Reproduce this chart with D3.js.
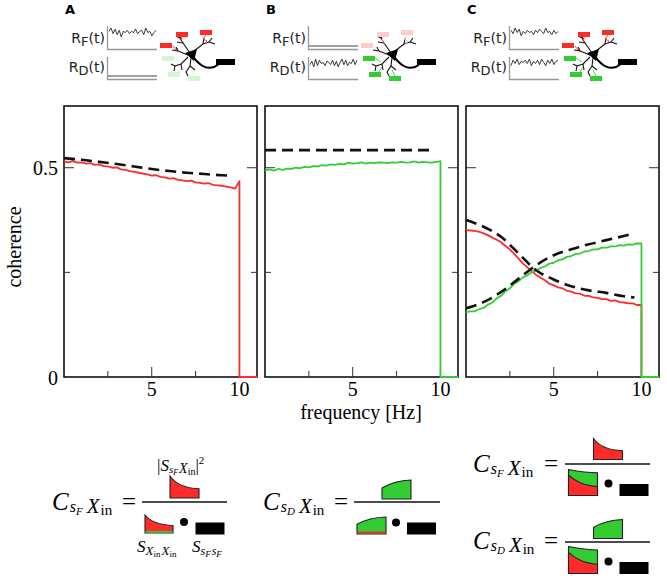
<!DOCTYPE html>
<html>
<head>
<meta charset="utf-8">
<script src="https://cdn.jsdelivr.net/npm/d3@7"></script>
<style>
body { margin: 0; background: #fff; }
svg { display: block; }
</style>
</head>
<body>
<svg width="667" height="581"></svg>
<script>
// Frequency grid of the simulated coherence curves (Hz); last two points are the drop to zero
const freqSim = [0, 0.25, 0.5, 0.75, 1, 1.25, 1.5, 1.75, 2, 2.25, 2.5, 2.75, 3, 3.25, 3.5, 3.75,
    4, 4.25, 4.5, 4.75, 5, 5.25, 5.5, 5.75, 6, 6.25, 6.5, 6.75, 7, 7.25, 7.5, 7.75,
    8, 8.25, 8.5, 8.75, 9, 9.25, 9.5, 9.75, 10, 10, 11];

// Simulated coherence (solid lines)
const simA_red = [.515, .513, .516, .512, .513, .510, .511, .507, .508, .504, .503, .500, .501, .496, .495, .492,
    .490, .488, .486, .484, .481, .482, .478, .477, .474, .475, .471, .470, .468, .469, .465, .464,
    .462, .463, .459, .458, .457, .455, .453, .450, .468, 0, 0];
const simB_green = [.494, .496, .493, .497, .495, .498, .497, .500, .499, .502, .501, .504, .503, .506, .505, .508,
    .507, .509, .508, .512, .510, .511, .513, .510, .512, .511, .513, .512, .511, .513, .512, .514,
    .512, .513, .515, .512, .514, .513, .512, .514, .516, 0, 0];
const simC_red = [.351, .350, .349, .347, .343, .339, .333, .328, .322, .313, .305, .294, .283, .271, .262, .253,
    .244, .237, .231, .223, .219, .214, .212, .206, .204, .200, .199, .194, .194, .190, .189, .186,
    .186, .182, .183, .179, .178, .176, .176, .172, .172, 0, 0];
const simC_green = [.155, .157, .157, .162, .165, .173, .178, .188, .194, .205, .212, .223, .229, .238, .243, .251,
    .254, .261, .264, .271, .273, .279, .281, .287, .289, .294, .295, .300, .301, .305, .305, .309,
    .309, .312, .312, .315, .314, .317, .316, .319, .319, 0, 0];

// Theory (dashed lines)
const freqTheory = [0, 1, 2, 3, 4, 5, 6, 7, 8, 9, 9.6];
const thA = [.523, .519, .514, .509, .503, .497, .492, .488, .485, .482, .481];
const thB = [.542, .542, .542, .542, .542, .542, .542, .542, .542, .542, .542];
const thC_red = [.375, .359, .335, .295, .255, .233, .217, .207, .201, .193, .190];
const thC_green = [.164, .179, .203, .235, .267, .291, .305, .317, .327, .337, .343];

// Ticks
const xTicks = [2.5, 5, 7.5, 10];
const xTickLabels = ["", "5", "", "10"];
const yTicks = [0, 0.25, 0.5];
const yTickLabels = ["0", "", "0.5"];
const panelLetters = ["A", "B", "C"];

// Little input traces in the cartoons (arbitrary units)
const noiseF_A = [.6, .9, .4, .8, .3, .7, .1, .6, .5, .7, .4, .6, .5, .8, .4, .6, .7, .3, .9, .5, .6, .2, .5, .7];
const noiseD_B = [.4, .7, .2, .9, .3, .8, .5, .6, .3, .7, .6, .4, .8, .3, .7, .2, .6, .9, .4, .8, .3, .6, .5, .9, .4, .8];
const noiseF_C = [.7, .4, .9, .5, .8, .2, .6, .4, .7, .5, .6, .3, .7, .5, .8, .6, .4, .9, .5, .6, .3, .7, .4, .6];
const noiseD_C = [.3, .8, .5, .9, .4, .7, .6, .8, .5, .9, .3, .7, .5, .8, .4, .9, .6, .3, .8, .5, .9, .4, .7, .8];

const RED = "#ff2b2b", GREEN = "#33cc33";
const RED_FADE = "#ffcccc", GREEN_FADE = "#d4f5d4";
const SERIF = "Liberation Serif, serif";
const SANS = "DejaVu Sans, sans-serif";

const svg = d3.select("svg");

// ---------------- plots ----------------
const plotTop = 106, plotBottom = 377, plotW = 193;
const panelX = [64, 265, 466];
const y = d3.scaleLinear().domain([0, 0.6475]).range([plotBottom, plotTop]);

const panels = [
    { sims: [{ v: simA_red, c: RED }], th: [thA] },
    { sims: [{ v: simB_green, c: GREEN }], th: [thB] },
    { sims: [{ v: simC_red, c: RED }, { v: simC_green, c: GREEN }], th: [thC_red, thC_green] }
];

panels.forEach((p, i) => {
    const x = d3.scaleLinear().domain([0, 11]).range([panelX[i], panelX[i] + plotW]);
    const g = svg.append("g");

    g.append("rect")
        .attr("x", x(0)).attr("y", plotTop)
        .attr("width", plotW).attr("height", plotBottom - plotTop)
        .attr("fill", "none").attr("stroke", "#111").attr("stroke-width", 1.6);

    // inward ticks
    yTicks.forEach((t, k) => {
        if (t === 0) return;
        const len = yTickLabels[k] ? 10 : 6;
        g.append("line").attr("x1", x(0)).attr("x2", x(0) + len)
            .attr("y1", y(t)).attr("y2", y(t)).attr("stroke", "#333");
        g.append("line").attr("x1", x(11)).attr("x2", x(11) - len)
            .attr("y1", y(t)).attr("y2", y(t)).attr("stroke", "#333");
    });
    xTicks.forEach((t, k) => {
        const len = xTickLabels[k] ? 10 : 6;
        g.append("line").attr("x1", x(t)).attr("x2", x(t))
            .attr("y1", plotBottom).attr("y2", plotBottom - len).attr("stroke", "#333");
        if (xTickLabels[k]) {
            g.append("text").attr("x", x(t)).attr("y", 396)
                .attr("text-anchor", "middle").attr("font-family", SERIF).attr("font-size", 20)
                .text(xTickLabels[k]);
        }
    });

    const simLine = d3.line().x((d, j) => x(freqSim[j])).y(d => y(d));
    p.sims.forEach(s => {
        g.append("path").datum(s.v).attr("d", simLine)
            .attr("fill", "none").attr("stroke", s.c).attr("stroke-width", 1.8)
            .attr("stroke-linejoin", "round");
    });

    const thLine = d3.line().x((d, j) => x(freqTheory[j])).y(d => y(d)).curve(d3.curveMonotoneX);
    p.th.forEach(t => {
        g.append("path").datum(t).attr("d", thLine)
            .attr("fill", "none").attr("stroke", "#111").attr("stroke-width", 2.6)
            .attr("stroke-dasharray", "11,6");
    });

    if (i === 0) {
        yTicks.forEach((t, k) => {
            if (!yTickLabels[k]) return;
            g.append("text").attr("x", 58).attr("y", y(t) + 7.5)
                .attr("text-anchor", "end").attr("font-family", SERIF).attr("font-size", 20)
                .text(yTickLabels[k]);
        });
    }
});

svg.append("text").attr("transform", "translate(21,247) rotate(-90)")
    .attr("text-anchor", "middle").attr("font-family", SERIF).attr("font-size", 20).text("coherence");
svg.append("text").attr("x", 361).attr("y", 419)
    .attr("text-anchor", "middle").attr("font-family", SERIF).attr("font-size", 20).text("frequency [Hz]");

// ---------------- cartoons ----------------
function rLabel(g, xr, yb, sub) {
    const t = g.append("text").attr("x", xr).attr("y", yb).attr("text-anchor", "end")
        .attr("font-family", SANS).attr("font-size", 14).attr("fill", "#222");
    t.append("tspan").text("R");
    t.append("tspan").attr("dy", 3).attr("font-size", 13).text(sub);
    t.append("tspan").attr("dy", -3).text("(t)");
}

function traceBox(g, top, bottom, data) {
    g.append("path").attr("d", `M107.5,${top}V${bottom}H157`)
        .attr("fill", "none").attr("stroke", "#999").attr("stroke-width", 1.3);
    if (data) {
        const tx = d3.scaleLinear().domain([0, data.length - 1]).range([109, 156]);
        const ty = d3.scaleLinear().domain([0, 1]).range([top + 12, top + 1]);
        g.append("path").datum(data)
            .attr("d", d3.line().x((d, j) => tx(j)).y(d => ty(d)))
            .attr("fill", "none").attr("stroke", "#222").attr("stroke-width", 0.9);
    } else {
        g.append("line").attr("x1", 108).attr("x2", 157)
            .attr("y1", bottom - 3.5).attr("y2", bottom - 3.5)
            .attr("stroke", "#444").attr("stroke-width", 1);
    }
}

function neuron(g, red, green) {
    const dend = [
        [[190, 53], [183, 43], [180, 38]], [[183, 43], [177, 42]], [[180, 38], [176, 36]], [[180, 38], [182, 34]],
        [[194, 51], [203, 44], [209, 42]], [[203, 44], [204, 38]], [[209, 42], [212, 38]], [[209, 42], [215, 44]],
        [[188, 55], [178, 51], [172, 50]], [[178, 51], [176, 47]],
        [[188, 57], [181, 64], [175, 66]], [[181, 64], [182, 70]], [[175, 66], [171, 64]], [[175, 66], [174, 71]],
        [[191, 58], [190, 66], [186, 72]], [[190, 66], [195, 70]], [[186, 72], [188, 76]]
    ];
    const ln = d3.line();
    dend.forEach(s => g.append("path").attr("d", ln(s)).attr("fill", "none")
        .attr("stroke", "#111").attr("stroke-width", 1.1));
    g.append("path").attr("d", "M185,53L197,49L194,61Z").attr("fill", "#000");
    g.append("path").attr("d", "M193,57C199,64 205,70 214,67L219,64")
        .attr("fill", "none").attr("stroke", "#000").attr("stroke-width", 2);
    g.append("rect").attr("x", 216).attr("y", 59).attr("width", 19).attr("height", 6).attr("fill", "#000");

    const reds = [[160, 43, [[173, 46], [176, 50], [178, 48]]], [176, 32, [[182, 37], [181, 41], [184, 43]]],
        [200, 30, [[206, 35], [203, 39], [207, 41], [205, 44]]]];
    reds.forEach(r => {
        g.append("path").attr("d", ln(r[2])).attr("fill", "none").attr("stroke", red).attr("stroke-width", 0.9);
        g.append("rect").attr("x", r[0]).attr("y", r[1]).attr("width", 12).attr("height", 5).attr("fill", red);
    });
    const greens = [[162, 56, [[174, 58], [180, 62]]], [168, 72, [[178, 72], [181, 67]]],
        [188, 76, [[194, 76], [191, 70]]]];
    greens.forEach(r => {
        g.append("path").attr("d", ln(r[2])).attr("fill", "none").attr("stroke", green).attr("stroke-width", 0.9);
        g.append("rect").attr("x", r[0]).attr("y", r[1]).attr("width", 12).attr("height", 5).attr("fill", green);
    });
}

const cartoons = [
    { F: noiseF_A, D: null, red: RED, green: GREEN_FADE },
    { F: null, D: noiseD_B, red: RED_FADE, green: GREEN },
    { F: noiseF_C, D: noiseD_C, red: RED, green: GREEN }
];
cartoons.forEach((c, i) => {
    const g = svg.append("g").attr("transform", `translate(${i * 201},0)`);
    g.append("text").attr("x", 65).attr("y", 14).attr("font-family", SANS)
        .attr("font-weight", "bold").attr("font-size", 13).text(panelLetters[i]);
    rLabel(g, 105, 43, "F");
    rLabel(g, 105, 72, "D");
    traceBox(g, 26, 49.5, c.F);
    traceBox(g, 57, 79.5, c.D);
    neuron(g, c.red, c.green);
});

// ---------------- formulas ----------------
function mathText(x0, yb, parts) {
    const t = svg.append("text").attr("x", x0).attr("y", yb).attr("font-family", SERIF);
    let prev = 0;
    parts.forEach(p => {
        const [txt, size, off, ital, dx] = p;
        t.append("tspan").attr("dy", off - prev).attr("dx", dx || 0)
            .attr("font-size", size).attr("font-style", ital === false ? "normal" : "italic").text(txt);
        prev = off;
    });
}
function cLabel(x0, yb, sub) {
    mathText(x0, yb, [["C", 25, 0], ["s", 16, 2, true, 1], [sub, 11, 5], ["X", 21, 3, true, 4], ["in", 15, 5, false, 1]]);
}
function equals(x0, yb) {
    svg.append("text").attr("x", x0).attr("y", yb).attr("font-family", SERIF).attr("font-size", 25).text("=");
}
function fracLine(x1, x2, yy) {
    svg.append("line").attr("x1", x1).attr("x2", x2).attr("y1", yy).attr("y2", yy)
        .attr("stroke", "#111").attr("stroke-width", 1.6);
}
function decayPath(x0, y0, w, h) {
    return `M${x0},${y0 + h}L${x0},${y0}C${x0 + 0.18 * w},${y0 + 0.35 * h} ${x0 + 0.45 * w},${y0 + 0.55 * h} ${x0 + w},${y0 + 0.58 * h}L${x0 + w},${y0 + h}Z`;
}
function risePath(x0, y0, w, h) {
    return `M${x0},${y0 + h}L${x0},${y0 + 0.42 * h}C${x0 + 0.3 * w},${y0 + 0.15 * h} ${x0 + 0.6 * w},${y0 + 0.02 * h} ${x0 + w},${y0}L${x0 + w},${y0 + h}Z`;
}
function shape(d, fill) {
    svg.append("path").attr("d", d).attr("fill", fill).attr("stroke", "#222").attr("stroke-width", 1.1);
}
function stacked(x0, y0, w, h) {
    shape(`M${x0},${y0 + h}L${x0},${y0}C${x0 + 0.3 * w},${y0 + 0.06 * h} ${x0 + 0.6 * w},${y0 + 0.12 * h} ${x0 + w},${y0 + 0.13 * h}L${x0 + w},${y0 + h}Z`, GREEN);
    shape(`M${x0},${y0 + h}L${x0},${y0 + 0.22 * h}C${x0 + 0.25 * w},${y0 + 0.45 * h} ${x0 + 0.5 * w},${y0 + 0.62 * h} ${x0 + w},${y0 + 0.66 * h}L${x0 + w},${y0 + h}Z`, RED);
}
function dotRect(cx, cy, rx, ry) {
    svg.append("circle").attr("cx", cx).attr("cy", cy).attr("r", 4).attr("fill", "#000");
    svg.append("rect").attr("x", rx).attr("y", ry).attr("width", 29).attr("height", 12).attr("fill", "#000");
}

// A
cLabel(52, 510, "F");
equals(122, 510);
fracLine(142, 227, 502);
shape(decayPath(170, 476, 29, 22), RED);
shape(decayPath(145, 515, 28, 18), RED);
svg.append("rect").attr("x", 145.5).attr("y", 531).attr("width", 27).attr("height", 1.8).attr("fill", GREEN);
dotRect(184, 522, 195.5, 522.5);
mathText(157, 471, [["|", 17, 0, false], ["S", 17, 0], ["s", 11, 2], ["F", 8, 4], ["X", 14, 2, true, 1], ["in", 10, 4, false], ["|", 17, 0, false], ["2", 11, -7, false]]);
mathText(137, 552, [["S", 17, 0], ["X", 13, 3], ["in", 9, 5, false], ["X", 13, 3, true, 1], ["in", 9, 5, false]]);
mathText(192, 552, [["S", 17, 0], ["s", 12, 3], ["F", 9, 5], ["s", 12, 3, true, 1], ["F", 9, 5]]);

// B
cLabel(263, 510, "D");
equals(334, 510);
fracLine(354, 440, 502);
shape(risePath(382, 480, 29, 19), GREEN);
shape(risePath(357, 517, 29, 17), GREEN);
svg.append("rect").attr("x", 357.5).attr("y", 531.5).attr("width", 28).attr("height", 1.8).attr("fill", RED);
dotRect(396, 522.5, 407, 522.5);

// C
cLabel(473, 472, "F");
equals(544, 472);
fracLine(565, 650, 464);
shape(decayPath(593.5, 438.5, 29, 21), RED);
stacked(568.5, 469.5, 29, 26);
dotRect(608.5, 483.5, 619.5, 484);

cLabel(473, 549, "D");
equals(544, 549);
fracLine(565, 650, 542);
shape(risePath(593.5, 519.5, 29, 19), GREEN);
stacked(568.5, 546.5, 29, 27);
dotRect(608.5, 561.5, 619.5, 562);
</script>
</body>
</html>
